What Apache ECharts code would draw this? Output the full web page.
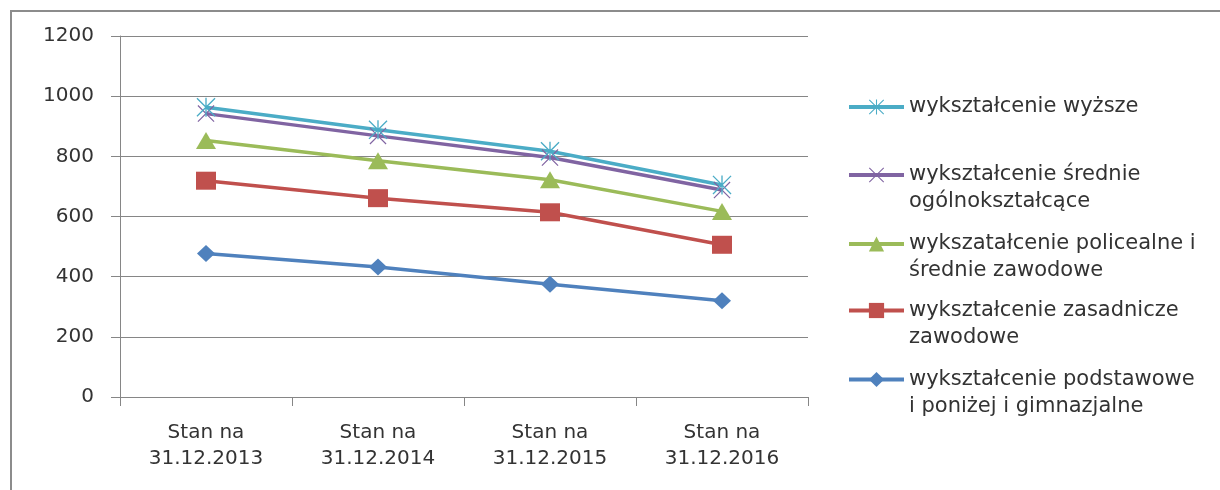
<!DOCTYPE html>
<html lang="pl">
  <head>
    <meta charset="UTF-8" />
    <title>Wykształcenie</title>
    <script src="https://cdn.jsdelivr.net/npm/echarts@6/dist/echarts.min.js"></script>
    <style>
      html, body { margin: 0; padding: 0; background: #fff; }
      #main { width: 1220px; height: 490px; }
    </style>
  </head>
  <body>
    <div id="main"></div>
    <script>
      // dane z wykresu
      var kategorie = ["Stan na\n31.12.2013", "Stan na\n31.12.2014", "Stan na\n31.12.2015", "Stan na\n31.12.2016"];
      var wyzsze = [963, 888, 817, 705];
      var srednieOgolne = [942, 868, 796, 688];
      var policealne = [853, 785, 722, 617];
      var zasadnicze = [719, 661, 614, 506];
      var podstawowe = [477, 432, 375, 320];
      var osY = [0, 200, 400, 600, 800, 1000, 1200];

      var nazwy = {
        wyzsze: "wykształcenie wyższe",
        srednie: "wykształcenie średnie ogólnokształcące",
        policealne: "wykszatałcenie policealne i średnie zawodowe",
        zasadnicze: "wykształcenie zasadnicze zawodowe",
        podstawowe: "wykształcenie podstawowe i poniżej i gimnazjalne"
      };
      var etykiety = {};
      etykiety[nazwy.wyzsze] = "wykształcenie wyższe";
      etykiety[nazwy.srednie] = "wykształcenie średnie\nogólnokształcące";
      etykiety[nazwy.policealne] = "wykszatałcenie policealne i\nśrednie zawodowe";
      etykiety[nazwy.zasadnicze] = "wykształcenie zasadnicze\nzawodowe";
      etykiety[nazwy.podstawowe] = "wykształcenie podstawowe\ni poniżej i gimnazjalne";

      var font = "DejaVu Sans";
      var tekst = "#333";

      // symbole: gwiazdka i krzyżyk (Excel)
      var krzyzyk = "path://M0,1L1,0L20,19L19,20ZM19,0L20,1L1,20L0,19Z";
      var gwiazdka = krzyzyk + "M9.3,0L10.7,0L10.7,20L9.3,20Z";

      function seria(nazwa, dane, kolor, symbol, rozmiar) {
        return {
          name: nazwa,
          type: "line",
          data: dane,
          symbol: symbol,
          symbolSize: rozmiar,
          showSymbol: true,
          lineStyle: { color: kolor, width: 3.5 },
          itemStyle: { color: kolor },
          emphasis: { disabled: true }
        };
      }

      function legenda(nazwa, top) {
        var tekstLegendy = etykiety[nazwa];
        // pusta linia na górze -> ikona na wysokości pierwszej linii
        if (tekstLegendy.indexOf("\n") >= 0) tekstLegendy = " \n" + tekstLegendy;
        return {
          data: [nazwa],
          left: 847,
          top: top,
          padding: 0,
          itemWidth: 55,
          itemHeight: 19,
          selectedMode: false,
          lineStyle: { width: 4 },
          formatter: function () { return tekstLegendy; },
          textStyle: {
            fontFamily: font,
            fontSize: 21,
            color: tekst,
            lineHeight: 27
          }
        };
      }

      var myChart = echarts.init(document.getElementById("main"));
      var option = {
        animation: false,
        grid: { left: 120, right: 412, top: 36, bottom: 93 },
        legend: [
          legenda(nazwy.wyzsze, 93.5),
          legenda(nazwy.srednie, 134.5),
          legenda(nazwy.policealne, 203.5),
          legenda(nazwy.zasadnicze, 270),
          legenda(nazwy.podstawowe, 339)
        ],
        xAxis: {
          type: "category",
          data: kategorie,
          boundaryGap: true,
          axisLine: { lineStyle: { color: "#868686", width: 1 } },
          axisTick: { show: true, length: 9, lineStyle: { color: "#868686" } },
          axisLabel: {
            margin: 23,
            fontFamily: font,
            fontSize: 20,
            lineHeight: 26,
            color: tekst,
            align: "center"
          },
          splitLine: { show: false }
        },
        yAxis: {
          type: "value",
          min: osY[0],
          max: osY[osY.length - 1],
          interval: osY[1] - osY[0],
          axisLine: { show: true, lineStyle: { color: "#868686", width: 1 } },
          axisTick: { show: true, length: 9, lineStyle: { color: "#868686" } },
          axisLabel: {
            margin: 26,
            fontFamily: font,
            fontSize: 20,
            color: tekst,
            formatter: function (v) { return String(v); }
          },
          splitLine: { show: true, lineStyle: { color: "#868686", width: 1 } }
        },
        series: [
          seria(nazwy.podstawowe, podstawowe, "#4F81BD", "diamond", [18, 17]),
          seria(nazwy.zasadnicze, zasadnicze, "#C0504D", "rect", [20, 18]),
          seria(nazwy.policealne, policealne, "#9BBB59", "triangle", [20, 17]),
          seria(nazwy.srednie, srednieOgolne, "#8064A2", krzyzyk, [17, 17]),
          seria(nazwy.wyzsze, wyzsze, "#4BACC6", gwiazdka, [19, 19])
        ],
        graphic: [
          {
            type: "polyline",
            silent: true,
            shape: { points: [[11, 490], [11, 11], [1220, 11]] },
            style: { fill: null, stroke: "#8c8c8c", lineWidth: 2 }
          }
        ]
      };
      myChart.setOption(option);
    </script>
  </body>
</html>
